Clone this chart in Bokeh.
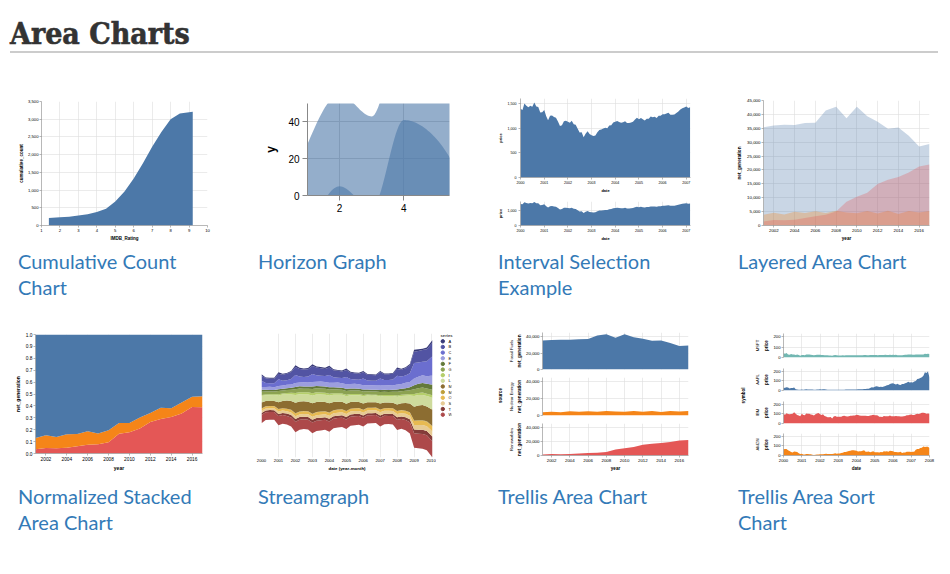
import numpy as np
import pandas as pd
from bokeh.plotting import figure
from bokeh.layouts import row, column
from bokeh.models import (Div, Range1d, FixedTicker, NumeralTickFormatter, Title,
                          FactorRange, DatetimeTickFormatter)
from bokeh.embed import file_html
from bokeh.resources import INLINE

# ---------------- data ----------------
IMDB_RATING = [1.4, 2.0, 2.5, 3.0, 3.5, 4.0, 4.5, 5.0, 5.5, 6.0, 6.5, 7.0, 7.5, 8.0, 8.5, 9.0, 9.2]
CUM_COUNT = [210, 230, 250, 280, 320, 380, 470, 680, 960, 1330, 1760, 2220, 2640, 3000, 3160, 3200, 3210]

HORIZON_X = list(range(1, 21))
HORIZON_Y = [28, 55, 43, 91, 81, 53, 19, 87, 52, 48, 24, 49, 87, 66, 17, 27, 68, 16, 49, 15]

SP500_PRICE = [1394.46, 1366.42, 1498.58, 1452.43, 1420.6, 1454.6, 1430.83, 1517.68, 1436.51, 1429.4, 1314.95, 1320.28,
               1366.01, 1239.94, 1160.33, 1249.46, 1255.82, 1224.38, 1211.23, 1133.58, 1040.94, 1059.78, 1139.45, 1148.08,
               1130.2, 1106.73, 1147.39, 1076.92, 1067.14, 989.82, 911.62, 916.07, 815.28, 885.76, 936.31, 879.82,
               855.7, 841.15, 848.18, 916.92, 963.59, 974.5, 990.31, 1008.01, 995.97, 1050.71, 1058.2, 1111.92,
               1131.13, 1144.94, 1126.21, 1107.3, 1120.68, 1140.84, 1101.72, 1104.24, 1114.58, 1130.2, 1173.82, 1211.92,
               1181.27, 1203.6, 1180.59, 1156.85, 1191.5, 1191.33, 1234.18, 1220.33, 1228.81, 1207.01, 1249.48, 1248.29,
               1280.08, 1280.66, 1294.87, 1310.61, 1270.09, 1270.2, 1276.66, 1303.82, 1335.85, 1377.94, 1400.63, 1418.3,
               1438.24, 1406.82, 1420.86]
SP500_DATES = pd.date_range("2000-01-01", periods=len(SP500_PRICE), freq="MS")

YEARS = list(range(2001, 2018))
FOSSIL = [35361, 35991, 36234, 36205, 36883, 37014, 41389, 42734, 38620, 42750, 39361, 37379, 34873, 35250, 32319, 28437, 29329]
NUCLEAR = [3853, 4574, 3988, 4929, 4538, 5095, 4519, 5282, 4679, 4451, 5215, 4347, 5321, 4152, 5243, 4703, 5214]
RENEW = [1437, 1963, 1885, 2102, 2724, 3364, 3870, 5070, 8560, 10308, 11795, 14949, 16476, 17452, 19091, 21241, 21933]

STREAM_SERIES = ["Agriculture", "Business services", "Construction", "Education and Health", "Finance",
                 "Government", "Information", "Leisure and hospitality", "Manufacturing",
                 "Mining and Extraction", "Other", "Self-employed", "Transportation and Utilities",
                 "Wholesale and Retail Trade"]
STREAM_COLORS = ["#393b79", "#5254a3", "#6b6ecf", "#9c9ede", "#637939", "#8ca252", "#b5cf6b",
                 "#cedb9c", "#8c6d31", "#bd9e39", "#e7ba52", "#e7cb94", "#843c39", "#ad494a"]
STREAM_DATES = list(pd.date_range("2000-01-01", "2009-10-01", freq="QS")) + [pd.Timestamp("2010-02-01")]
AGRI = [180, 110, 110, 120, 190, 120, 120, 140, 220, 140, 130, 150, 220, 140, 140, 140, 200, 120, 120, 120,
        180, 110, 100, 110, 160, 100, 90, 100, 150, 100, 90, 100, 170, 120, 110, 140, 260, 190, 180, 220, 300]
BUSI = [650, 580, 570, 560, 700, 740, 790, 860, 980, 940, 920, 900, 1000, 960, 940, 900, 940, 870, 850, 810,
        880, 800, 780, 740, 790, 730, 720, 690, 780, 720, 730, 710, 840, 840, 900, 990, 1400, 1450, 1460, 1500, 1700]
CONS = [750, 500, 450, 480, 830, 600, 560, 680, 1000, 750, 660, 740, 1000, 780, 700, 740, 960, 700, 610, 660,
        900, 620, 530, 580, 820, 580, 540, 590, 880, 690, 640, 740, 1100, 940, 900, 1100, 1900, 1750, 1650, 1850, 2400]
EDUC = [360, 350, 380, 340, 400, 390, 430, 420, 490, 470, 520, 500, 560, 540, 590, 550, 580, 550, 600, 550,
        570, 540, 600, 550, 550, 520, 580, 530, 550, 530, 590, 540, 600, 600, 670, 650, 860, 890, 980, 960, 1150]
FINA = [230, 200, 190, 190, 230, 220, 230, 240, 290, 280, 280, 270, 300, 290, 290, 280, 280, 265, 255, 245,
        260, 240, 235, 230, 235, 225, 215, 215, 245, 235, 245, 255, 300, 310, 340, 380, 500, 540, 560, 580, 620]
GOVT = [430, 370, 360, 340, 400, 370, 380, 380, 460, 440, 440, 450, 520, 500, 500, 500, 510, 480, 470, 460,
        480, 450, 440, 430, 440, 410, 400, 390, 420, 395, 385, 385, 445, 425, 445, 465, 570, 590, 620, 640, 700]
INFO = [125, 100, 100, 110, 140, 150, 170, 190, 250, 265, 270, 260, 280, 270, 255, 245, 220, 200, 185, 175,
        175, 155, 145, 145, 145, 128, 118, 118, 138, 128, 118, 128, 148, 140, 150, 170, 250, 270, 290, 280, 300]
LEIS = [800, 730, 720, 740, 860, 780, 760, 820, 960, 890, 860, 900, 980, 920, 890, 900, 960, 890, 860, 870,
        930, 850, 830, 850, 900, 820, 800, 820, 900, 830, 820, 850, 990, 920, 920, 990, 1350, 1280, 1250, 1300, 1500]
MANU = [730, 640, 620, 620, 830, 900, 1000, 1100, 1300, 1250, 1200, 1200, 1280, 1260, 1220, 1150, 1150, 1020, 980, 930,
        900, 820, 790, 750, 780, 700, 680, 660, 730, 690, 680, 670, 790, 840, 940, 1100, 1700, 1850, 1900, 1850, 2000]
MINI = [20, 18, 18, 18, 20, 20, 22, 25, 30, 32, 30, 30, 32, 30, 28, 28, 27, 25, 24, 22,
        20, 18, 18, 18, 18, 17, 16, 17, 20, 18, 18, 20, 22, 24, 26, 30, 50, 60, 65, 60, 70]
OTHR = [280, 260, 260, 260, 290, 280, 290, 300, 340, 330, 340, 340, 370, 355, 360, 350, 370, 355, 355, 345,
        355, 340, 340, 330, 330, 315, 315, 315, 335, 315, 325, 325, 355, 355, 375, 395, 500, 520, 540, 550, 620]
SELF = [260, 240, 240, 240, 300, 290, 300, 310, 340, 330, 340, 340, 370, 355, 365, 355, 385, 370, 380, 370,
        380, 360, 370, 360, 360, 345, 355, 345, 385, 365, 375, 375, 410, 410, 430, 450, 560, 580, 590, 600, 650]
TRAN = [240, 220, 220, 220, 270, 270, 290, 310, 340, 325, 325, 325, 345, 335, 325, 325, 330, 300, 300, 290,
        300, 275, 275, 275, 285, 255, 255, 255, 285, 255, 255, 265, 315, 305, 325, 355, 480, 500, 510, 520, 580]
WHOL = [1050, 980, 980, 960, 1150, 1080, 1080, 1130, 1320, 1240, 1210, 1220, 1330, 1280, 1260, 1240, 1280, 1200, 1180, 1160,
        1200, 1120, 1100, 1080, 1100, 1020, 1000, 1000, 1100, 1030, 1020, 1060, 1250, 1230, 1270, 1400, 1800, 1800, 1850, 1850, 2000]
STREAM_VALUES = [AGRI, BUSI, CONS, EDUC, FINA, GOVT, INFO, LEIS, MANU, MINI, OTHR, SELF, TRAN, WHOL]

MSFT = [39.81, 36.35, 43.22, 28.37, 25.45, 32.54, 28.4, 28.4, 24.53, 28.02, 23.34, 17.65,
        24.84, 24.0, 22.25, 27.56, 28.14, 29.7, 26.93, 23.21, 20.82, 23.65, 26.12, 26.95,
        25.92, 23.73, 24.53, 21.26, 20.71, 22.25, 19.52, 19.97, 17.79, 21.75, 23.46, 21.03,
        19.31, 19.34, 19.76, 20.87, 20.09, 20.93, 21.56, 21.65, 22.69, 21.45, 21.1, 22.46,
        22.69, 21.77, 20.46, 21.45, 21.53, 23.44, 23.38, 22.47, 22.76, 23.02, 24.6, 24.52,
        24.11, 23.15, 22.24, 23.28, 23.82, 22.93, 23.64, 25.35, 23.83, 23.8, 25.71, 24.29,
        26.14, 25.04, 25.36, 22.5, 21.19, 21.8, 22.51, 24.13, 25.68, 26.96, 27.66, 28.13,
        29.07, 26.63, 26.35, 28.3, 29.16, 29.16, 29.18, 28.44, 29.33, 36.38, 33.36, 35.6, 32.6]
AAPL = [25.94, 28.66, 33.95, 31.01, 21.0, 26.19, 25.41, 30.47, 12.88, 9.78, 8.25, 7.44,
        10.81, 9.12, 11.03, 12.74, 9.98, 11.62, 9.4, 9.27, 7.76, 8.78, 10.65, 10.95,
        12.36, 10.85, 11.84, 12.14, 11.65, 8.86, 7.63, 7.38, 7.25, 8.03, 7.75, 7.16,
        7.18, 7.51, 7.07, 7.11, 8.98, 9.53, 10.54, 11.31, 10.36, 11.44, 10.45, 10.69,
        11.28, 11.96, 13.52, 12.89, 14.03, 16.27, 16.17, 17.25, 19.38, 26.2, 33.53, 32.2,
        38.45, 44.86, 41.67, 36.06, 39.76, 36.81, 42.65, 46.89, 53.61, 57.59, 67.82, 71.89,
        75.51, 68.49, 62.72, 70.39, 59.77, 57.27, 67.96, 67.85, 76.98, 81.08, 91.66, 84.84,
        85.73, 84.61, 92.91, 99.8, 121.19, 122.04, 131.76, 138.48, 153.47, 189.95, 182.22, 198.08, 135.36]
IBM = [100.52, 92.11, 106.11, 99.95, 96.31, 98.33, 100.74, 118.62, 101.19, 88.5, 84.12, 76.47,
       100.76, 89.98, 86.63, 103.7, 100.82, 102.35, 94.87, 90.25, 82.82, 97.58, 104.5, 109.36,
       97.54, 88.82, 96.12, 77.91, 73.92, 65.7, 64.07, 68.73, 53.11, 72.08, 79.16, 70.58,
       71.22, 71.13, 71.57, 77.47, 80.48, 75.42, 74.28, 75.12, 80.91, 81.96, 82.75, 84.5,
       91.38, 88.7, 84.41, 81.04, 81.59, 81.19, 80.19, 78.17, 79.13, 82.84, 87.15, 91.16,
       86.39, 85.78, 84.66, 70.77, 70.18, 68.93, 77.53, 75.07, 74.7, 76.25, 82.98, 76.73,
       75.89, 75.09, 77.17, 77.05, 75.04, 72.15, 72.7, 76.35, 77.26, 87.06, 86.95, 91.9,
       93.79, 88.18, 89.44, 96.98, 101.54, 100.25, 105.4, 111.54, 112.6, 111.0, 100.9, 103.7, 102.75]
AMZN = [64.56, 68.87, 67.0, 55.19, 48.31, 36.31, 30.12, 41.5, 38.44, 36.62, 24.69, 15.56,
        17.31, 10.19, 10.23, 15.78, 16.69, 14.15, 12.49, 8.94, 5.97, 6.98, 11.32, 10.82,
        14.19, 14.1, 14.3, 16.69, 18.23, 16.25, 14.45, 14.94, 15.93, 19.36, 23.35, 18.89,
        21.85, 22.01, 26.03, 28.69, 35.89, 36.32, 41.64, 46.32, 48.43, 54.43, 53.97, 52.62,
        50.4, 43.01, 43.28, 43.6, 48.5, 54.4, 38.92, 38.14, 40.86, 34.13, 39.68, 44.29,
        35.18, 34.27, 34.27, 32.36, 35.51, 33.09, 45.15, 42.7, 45.3, 39.86, 48.46, 47.15,
        44.82, 37.44, 36.53, 35.21, 34.61, 38.68, 26.89, 30.83, 32.12, 38.09, 40.34, 39.46,
        37.67, 39.14, 39.79, 61.33, 69.14, 68.41, 78.54, 79.91, 93.15, 89.15, 90.56, 92.64, 77.7]
STOCK_DATES = pd.date_range("2000-01-01", periods=len(MSFT), freq="MS")
STOCK_ORDER = ["MSFT", "AAPL", "IBM", "AMZN"]

CAPTIONS_1 = ["Cumulative Count<br>Chart", "Horizon Graph", "Interval Selection<br>Example", "Layered Area Chart"]
CAPTIONS_2 = ["Normalized Stacked<br>Area Chart", "Streamgraph", "Trellis Area Chart", "Trellis Area Sort<br>Chart"]

# ---------------- style ----------------
BG = "#ffffff"
FONT = "Liberation Sans"
BLUE, ORANGE, RED, TEAL = "#4c78a8", "#f58518", "#e45756", "#72b7b2"
LINK = "#337ab7"


def base_fig(w, h, left, right, top, bottom, xr, yr, xtype="linear"):
    p = figure(width=w, height=h, x_range=xr, y_range=yr, x_axis_type=xtype,
               output_backend="svg", toolbar_location=None, title=None,
               min_border_left=left, min_border_right=right,
               min_border_top=top, min_border_bottom=bottom,
               background_fill_color="white", border_fill_color=BG,
               outline_line_color=None)
    p.grid.grid_line_color = "#dddddd"
    p.grid.grid_line_width = 0.6
    return p


def style_axis(ax, lab=4.2, tit=4.5, tick=2, lso=1, tso=1, text=None, lw=0.6):
    ax.axis_line_color = "#888888"
    ax.axis_line_width = lw
    ax.major_tick_line_color = "#888888"
    ax.major_tick_line_width = lw
    ax.major_tick_in = 0
    ax.major_tick_out = tick
    ax.minor_tick_line_color = None
    ax.major_label_text_font = FONT
    ax.major_label_text_font_size = f"{lab}px"
    ax.major_label_text_color = "#000000"
    ax.major_label_standoff = lso
    ax.axis_label = text
    ax.axis_label_text_font = FONT
    ax.axis_label_text_font_size = f"{tit}px"
    ax.axis_label_text_font_style = "bold"
    ax.axis_label_text_color = "#000000"
    ax.axis_label_standoff = tso


def year_ms(years):
    return [pd.Timestamp(f"{y}-01-01").value / 1e6 for y in years]


YEAR_FMT = DatetimeTickFormatter(years="%Y", months="%Y", days="%Y", hours="%Y")


def monotone_curve(xs, ys, steps=24):
    x = np.asarray(xs, float)
    y = np.asarray(ys, float)
    n = len(x)
    h = np.diff(x)
    s = np.diff(y) / h
    t = np.zeros(n)
    for i in range(1, n - 1):
        p = (s[i - 1] * h[i] + s[i] * h[i - 1]) / (h[i - 1] + h[i])
        t[i] = (np.sign(s[i - 1]) + np.sign(s[i])) * min(abs(s[i - 1]), abs(s[i]), 0.5 * abs(p))
    t[0] = (3 * s[0] - t[1]) / 2
    t[-1] = (3 * s[-1] - t[-2]) / 2
    X, Y = [], []
    for i in range(n - 1):
        u = np.linspace(0, 1, steps, endpoint=(i == n - 2))
        h00 = 2 * u ** 3 - 3 * u ** 2 + 1
        h10 = u ** 3 - 2 * u ** 2 + u
        h01 = -2 * u ** 3 + 3 * u ** 2
        h11 = u ** 3 - u ** 2
        X.extend(x[i] + u * h[i])
        Y.extend(h00 * y[i] + h10 * h[i] * t[i] + h01 * y[i + 1] + h11 * h[i] * t[i + 1])
    return np.array(X), np.array(Y)


def facet_fig(w, h, text, frame_left, size=4.5):
    p = figure(width=w, height=h, output_backend="svg", toolbar_location=None, title=None,
               x_axis_location=None, y_axis_location=None,
               x_range=Range1d(0, 1), y_range=Range1d(0, 1),
               min_border_left=frame_left, min_border_right=w - frame_left - 2,
               min_border_top=20, min_border_bottom=28,
               background_fill_color=BG, border_fill_color=BG, outline_line_color=None)
    p.grid.visible = False
    p.add_layout(Title(text=text, align="center", text_font=FONT, text_font_size=f"{size}px",
                       text_font_style="bold", text_color="#000000", standoff=0), "left")
    return p


def box(*items):
    # isolate each plot in its own container so frames are not aligned across siblings
    return column(*items)


# ---------------- row 1 ----------------
# Cumulative count
c1 = base_fig(240, 153, 41, 33, 9, 20, Range1d(1, 10), Range1d(0, 3500))
c1.varea(x=IMDB_RATING, y1=0, y2=CUM_COUNT, fill_color=BLUE)
c1.xaxis.ticker = FixedTicker(ticks=list(range(1, 11)))
c1.yaxis.ticker = FixedTicker(ticks=list(range(0, 3501, 500)))
c1.yaxis.formatter = NumeralTickFormatter(format="0,0")
style_axis(c1.xaxis[0], text="IMDB_Rating")
style_axis(c1.yaxis[0], text="cumulative_count", tso=1)

# Horizon graph
c2 = base_fig(240, 153, 67, 31, 11, 50, Range1d(1, 5.42), Range1d(0, 50))
hx, hy = monotone_curve(HORIZON_X, HORIZON_Y)
c2.varea(x=hx, y1=0, y2=hy, fill_color=BLUE, fill_alpha=0.6)
c2.varea(x=hx, y1=0, y2=hy - 50, fill_color=BLUE, fill_alpha=0.6)
c2.xaxis.ticker = FixedTicker(ticks=[2, 4])
c2.yaxis.ticker = FixedTicker(ticks=[0, 20, 40])
c2.grid.grid_line_color = "#cfcfcf"
c2.grid.grid_line_width = 1
style_axis(c2.xaxis[0], lab=10, tit=12, tick=5, lso=3, text=None, lw=1)
style_axis(c2.yaxis[0], lab=10, tit=12, tick=5, lso=3, tso=7, text="y", lw=1)

# Interval selection (two panels)
c3a = base_fig(240, 103, 40, 30, 6, 16, Range1d(pd.Timestamp("2000-01-01"), pd.Timestamp("2007-03-07")),
               Range1d(0, 1600), xtype="datetime")
c3a.varea(x=SP500_DATES, y1=0, y2=SP500_PRICE, fill_color=BLUE)
c3a.yaxis.ticker = FixedTicker(ticks=[0, 500, 1000, 1500])
c3b = base_fig(240, 50, 40, 30, 6, 20, Range1d(pd.Timestamp("2000-01-01"), pd.Timestamp("2007-03-07")),
               Range1d(0, 1550), xtype="datetime")
c3b.varea(x=SP500_DATES, y1=0, y2=SP500_PRICE, fill_color=BLUE)
c3b.yaxis.ticker = FixedTicker(ticks=[0, 1000])
for p in (c3a, c3b):
    p.xaxis.ticker = FixedTicker(ticks=year_ms(range(2000, 2008)))
    p.xaxis.formatter = YEAR_FMT
    p.yaxis.formatter = NumeralTickFormatter(format="0,0")
    style_axis(p.xaxis[0], lab=3.6, tit=4.0, tick=2, lso=1, tso=1, text="date")
    style_axis(p.yaxis[0], lab=3.6, tit=4.0, tick=2, lso=2, tso=2, text="price")

# Layered area
c4 = base_fig(230, 153, 43, 21, 8, 20, Range1d(2001, 2017), Range1d(0, 45000))
for vals, col in ((FOSSIL, BLUE), (NUCLEAR, ORANGE), (RENEW, RED)):
    c4.varea(x=YEARS, y1=0, y2=vals, fill_color=col, fill_alpha=0.3)
c4.xaxis.ticker = FixedTicker(ticks=list(range(2002, 2017, 2)))
c4.yaxis.ticker = FixedTicker(ticks=list(range(0, 45001, 5000)))
c4.yaxis.formatter = NumeralTickFormatter(format="0,0")
style_axis(c4.xaxis[0], lab=4.4, tit=4.6, text="year")
style_axis(c4.yaxis[0], lab=4.4, tit=4.6, text="net_generation", tso=2)

# ---------------- row 2 ----------------
# Normalized stacked area
tot = np.array(FOSSIL) + np.array(NUCLEAR) + np.array(RENEW)
fr_r = np.array(RENEW) / tot
fr_n = fr_r + np.array(NUCLEAR) / tot
c5 = base_fig(240, 148, 35, 38, 9, 15, Range1d(2001, 2017), Range1d(0, 1))
c5.varea(x=YEARS, y1=0, y2=fr_r, fill_color=RED)
c5.varea(x=YEARS, y1=fr_r, y2=fr_n, fill_color=ORANGE)
c5.varea(x=YEARS, y1=fr_n, y2=1, fill_color=BLUE)
c5.xaxis.ticker = FixedTicker(ticks=list(range(2002, 2017, 2)))
c5.yaxis.ticker = FixedTicker(ticks=[i / 10 for i in range(11)])
c5.yaxis.formatter = NumeralTickFormatter(format="0.0")
style_axis(c5.xaxis[0], lab=4.8, tit=5.0, text="year")
style_axis(c5.yaxis[0], lab=4.8, tit=5.0, text="net_generation", tso=2)

# Streamgraph
vals = np.array(STREAM_VALUES, float)
totals = vals.sum(axis=0)
base = (totals.max() - totals) / 2
c6 = base_fig(196, 148, 21, 4, 8, 13, Range1d(pd.Timestamp("2000-01-01"), pd.Timestamp("2010-02-01")),
              Range1d(0, 15400), xtype="datetime")
c6.ygrid.visible = False
cum = base.copy()
for i in range(len(STREAM_SERIES) - 1, -1, -1):
    c6.varea(x=STREAM_DATES, y1=cum, y2=cum + vals[i], fill_color=STREAM_COLORS[i])
    cum = cum + vals[i]
c6.xaxis.ticker = FixedTicker(ticks=year_ms(range(2000, 2011)))
c6.xaxis.formatter = YEAR_FMT
style_axis(c6.xaxis[0], lab=4.2, tit=4.4, tick=0, lso=1, tso=1, text="date (year-month)")
c6.xaxis.axis_line_color = None
c6.yaxis.visible = False

leg = figure(width=44, height=148, output_backend="svg", toolbar_location=None, title=None,
             x_axis_location=None, y_axis_location=None,
             x_range=Range1d(-6.3, 8.7), y_range=FactorRange(factors=list(reversed(STREAM_SERIES))),
             min_border_left=0, min_border_right=29, min_border_top=13, min_border_bottom=56,
             background_fill_color=BG, border_fill_color=BG, outline_line_color=None)
leg.grid.visible = False
leg.scatter(x=[0] * len(STREAM_SERIES), y=STREAM_SERIES, color=STREAM_COLORS, size=3.4)
leg.text(x=[5.6] * len(STREAM_SERIES), y=STREAM_SERIES, text=[s[0] for s in STREAM_SERIES],
         text_font_size="4.2px", text_baseline="middle", text_color="#000000")
leg.title = Title(text="series", text_font=FONT, text_font_size="4.2px", text_font_style="bold",
                  align="left", offset=4, standoff=1)

# Trellis area
ta_panels = []
for vals_, col, name, (h, t, b) in ((FOSSIL, BLUE, "Fossil Fuels", (48, 7, 4)),
                                    (NUCLEAR, ORANGE, "Nuclear Energy", (46, 4, 4)),
                                    (RENEW, RED, "Renewables", (54, 4, 13))):
    p = base_fig(215, h, 33, 32, t, b, Range1d(2001, 2017), Range1d(0, 45000))
    p.varea(x=YEARS, y1=0, y2=vals_, fill_color=col)
    p.xaxis.ticker = FixedTicker(ticks=list(range(2002, 2017, 2)))
    p.yaxis.ticker = FixedTicker(ticks=[0, 20000, 40000])
    p.yaxis.formatter = NumeralTickFormatter(format="0,0")
    style_axis(p.xaxis[0], lab=4.4, tit=4.6, text="year")
    style_axis(p.yaxis[0], lab=4.4, tit=4.6, text="net_generation", tso=1)
    p.add_layout(Title(text=name, align="center", text_font=FONT, text_font_size="4.2px",
                       text_font_style="normal", text_color="#000000", standoff=2), "left")
    ta_panels.append(p)
for p in ta_panels[:-1]:
    p.xaxis.visible = False
c7 = row(box(facet_fig(25, 148, "source", 22)), column(*[box(p) for p in ta_panels]))

# Trellis area sort
ts_panels = []
stock_vals = {"MSFT": MSFT, "AAPL": AAPL, "IBM": IBM, "AMZN": AMZN}
stock_cols = {"MSFT": TEAL, "AAPL": BLUE, "IBM": RED, "AMZN": ORANGE}
for sym, (h, t, b) in zip(STOCK_ORDER, ((37, 8, 5), (33, 6, 5), (33, 6, 5), (45, 5, 17))):
    p = base_fig(202, h, 35, 21, t, b, Range1d(pd.Timestamp("2000-01-01"), pd.Timestamp("2008-01-01")),
                 Range1d(0, 230), xtype="datetime")
    p.varea(x=STOCK_DATES, y1=0, y2=stock_vals[sym], fill_color=stock_cols[sym])
    p.xaxis.ticker = FixedTicker(ticks=year_ms(range(2000, 2009)))
    p.xaxis.formatter = YEAR_FMT
    p.yaxis.ticker = FixedTicker(ticks=[0, 100, 200])
    style_axis(p.xaxis[0], lab=4.2, tit=4.5, text="date")
    style_axis(p.yaxis[0], lab=4.2, tit=4.5, text="price", tso=2)
    p.add_layout(Title(text=sym, align="center", text_font=FONT, text_font_size="4.2px",
                       text_font_style="normal", text_color="#000000", standoff=2), "left")
    ts_panels.append(p)
for p in ts_panels[:-1]:
    p.xaxis.visible = False
c8 = row(box(facet_fig(28, 148, "symbol", 25)), column(*[box(p) for p in ts_panels]))


# ---------------- page ----------------
def caption(text, w, h, pad_top):
    html = (f'<div style="padding-left:18px;padding-top:{pad_top}px;font-family:Lato;font-size:20px;'
            f'line-height:26px;color:{LINK};white-space:nowrap;">{text}</div>')
    return Div(text=html, width=w, height=h, margin=(0, 0, 0, 0))


title_html = ('<div style="position:relative;width:950px;height:92px;">'
              '<div style="position:absolute;left:10px;top:13px;font-family:\'DejaVu Serif\';font-weight:bold;'
              'font-stretch:condensed;font-size:30px;color:#333333;white-space:nowrap;'
              '-webkit-text-stroke:0.6px #333333;'
              'transform:scaleX(1.0);transform-origin:left top;">Area Charts</div>'
              '<div style="position:absolute;left:10px;top:51px;width:928px;height:2px;background:#cccccc;"></div>'
              '</div>')
title_div = Div(text=title_html, width=950, height=92, margin=(0, 0, 0, 0))

widths = [240, 240, 240, 230]
row1 = row(box(c1), box(c2), column(box(c3a), box(c3b)), box(c4))
cap1 = row(*[caption(t, w, 80, 3) for t, w in zip(CAPTIONS_1, widths)])
row2 = row(box(c5), row(box(c6), box(leg)), box(c7), box(c8))
cap2 = row(*[caption(t, w, 101, 10) for t, w in zip(CAPTIONS_2, widths)])

page = column(title_div, row1, cap1, row2, cap2)
open("out.html", "w").write(file_html(page, INLINE, title="Area Charts"))
